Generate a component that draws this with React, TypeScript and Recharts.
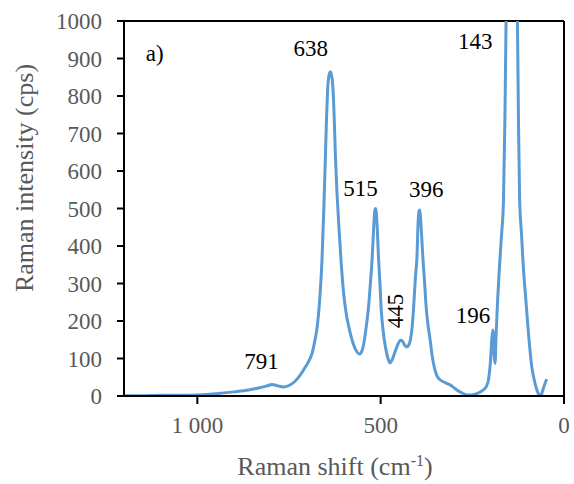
import React from 'react';
import { LineChart, Line, XAxis, YAxis, ReferenceLine, ReferenceDot, Label } from 'recharts';

// Raman shift (cm-1), ordered from high to low so the line runs left to right on the reversed axis
const shifts = [
  1200, 1150, 1100, 1050, 1000, 950, 900, 860, 830, 810, 796, 780, 765, 750, 735, 720, 705, 695, 687, 680,
  673, 666, 660, 655, 651, 648, 645, 641, 637, 633, 629, 626, 623, 619, 614, 608, 601, 594, 587, 575,
  565, 558, 552, 546, 540, 533, 528, 523, 519, 516, 514, 512, 509, 506, 502, 499, 494, 487, 480, 474,
  468, 460, 452, 446, 441, 435, 429, 424, 419, 414, 410, 405, 401, 398, 396, 394, 392, 389, 385, 380,
  376, 371, 365, 360, 354, 347, 340, 329, 318, 310, 300, 292, 280, 265, 252, 242, 230, 220, 212, 206,
  201, 197, 194, 191, 188, 185, 181, 176, 170, 165, 161, 158, 154, 150, 143, 136, 131, 127, 124, 121,
  116, 111, 104, 97, 88, 80, 74, 69, 65, 61, 57, 53, 50, 47,
];
// Raman intensity (cps)
const intensities = [
  1, 1, 2, 2, 3, 6, 11, 16, 22, 27, 31, 27, 24, 28, 38, 55, 78, 95, 114, 145,
  185, 260, 363, 500, 629, 730, 810, 855, 865, 850, 800, 720, 629, 540, 452, 360, 274, 220, 185, 140,
  118, 112, 118, 140, 180, 238, 300, 371, 450, 495, 500, 490, 440, 371, 300, 238, 180, 131, 100, 88,
  98, 120, 140, 149, 147, 136, 131, 135, 149, 185, 238, 320, 371, 460, 490, 496, 485, 440, 371, 300,
  238, 190, 149, 110, 78, 55, 45, 38, 33, 29, 22, 16, 9, 3, 3, 5, 10, 16, 25, 43,
  87, 150, 176, 110, 87, 168, 256, 345, 434, 523, 750, 1000, 1500, 2000, 2300, 2000, 1500, 1000, 720, 523,
  434, 345, 256, 168, 79, 38, 16, 5, 0, 5, 18, 30, 38, 45,
];

const xTicks = [1000, 500, 0];
const xTickLabels = ['1 000', '500', '0'];
const yTicks = [0, 100, 200, 300, 400, 500, 600, 700, 800, 900, 1000];

// Peak annotations (text, anchor shift, anchor intensity, rotation)
const annTexts = ['638', '515', '396', '791', '445', '196', '143', 'a)'];
const annShift = [691, 555, 376, 825, 460, 248, 242, 1116];
const annInt = [928, 555, 552, 93, 227, 216, 947, 915];
const annAngle = [0, 0, 0, 0, -90, 0, 0, 0];

const data = shifts.map((s, i) => ({ shift: s, intensity: intensities[i] }));

const SERIF = 'Liberation Serif';
const GRAY = '#595959';

const XTitle = (props: any) => {
  const vb = props.viewBox || {};
  const cx = vb.x + vb.width / 2 - 9;
  return (
    <text x={cx} y={475} textAnchor="middle" fill={GRAY} fontSize={26} style={{ fontFamily: SERIF }}>
      Raman shift (cm
      <tspan dy={-9} fontSize={16}>-1</tspan>
      <tspan dy={9}>)</tspan>
    </text>
  );
};

const YTitle = () => {
  const cx = 33;
  const cy = 178;
  return (
    <text
      x={cx}
      y={cy}
      textAnchor="middle"
      fill={GRAY}
      fontSize={26}
      style={{ fontFamily: SERIF }}
      transform={`rotate(-90 ${cx} ${cy})`}
    >
      Raman intensity (cps)
    </text>
  );
};

export default function App() {
  return (
    <div style={{ position: 'absolute', left: 0, top: 0, fontFamily: SERIF }}>
      <LineChart
        width={574}
        height={484}
        data={data}
        margin={{ top: 21, right: 10, bottom: 28, left: 0 }}
        style={{ fontFamily: SERIF }}
      >
        <XAxis
          dataKey="shift"
          type="number"
          domain={[0, 1200]}
          reversed
          allowDataOverflow
          ticks={xTicks}
          interval={0}
          tickFormatter={(v: number) => xTickLabels[xTicks.indexOf(v)]}
          height={60}
          axisLine={{ stroke: '#000', strokeWidth: 2 }}
          tickLine={{ stroke: '#000', strokeWidth: 2 }}
          tickSize={8}
          tickMargin={13}
          tick={{ fill: GRAY, fontSize: 23, style: { fontFamily: SERIF } }}
          label={<Label content={XTitle} />}
        />
        <YAxis
          type="number"
          domain={[0, 1000]}
          allowDataOverflow
          ticks={yTicks}
          interval={0}
          width={124}
          axisLine={{ stroke: '#000', strokeWidth: 2 }}
          tickLine={{ stroke: '#000', strokeWidth: 2 }}
          tickSize={7}
          tickMargin={15}
          tick={{ fill: GRAY, fontSize: 23, style: { fontFamily: SERIF } }}
          label={<Label content={YTitle} />}
        />
        <ReferenceLine y={1000} stroke="#000" strokeWidth={2} />
        <ReferenceLine x={0} stroke="#000" strokeWidth={2} />
        <Line
          dataKey="intensity"
          type="monotone"
          stroke="#5B9BD5"
          strokeWidth={3}
          dot={false}
          activeDot={false}
          isAnimationActive={false}
        />
        {annTexts.map((t, i) => (
          <ReferenceDot
            key={t}
            x={annShift[i]}
            y={annInt[i]}
            r={0}
            fill="none"
            stroke="none"
            label={{
              value: t,
              position: 'center',
              fill: '#000',
              fontSize: 23,
              style: { fontFamily: SERIF },
              angle: annAngle[i],
            }}
          />
        ))}
      </LineChart>
    </div>
  );
}
